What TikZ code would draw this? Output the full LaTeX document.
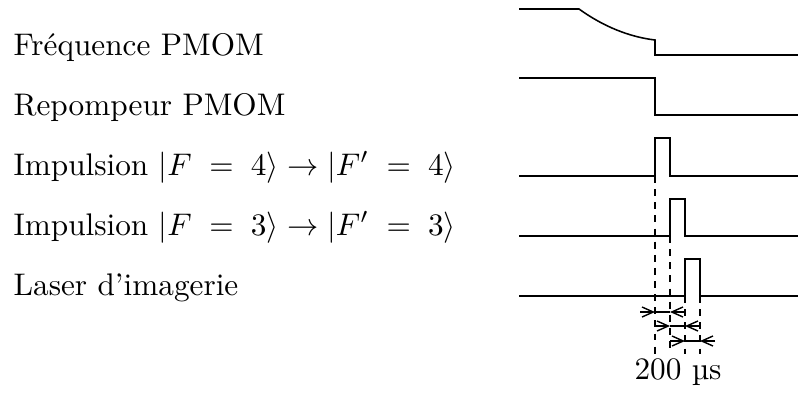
\documentclass[tikz,border=0pt]{standalone}
\usetikzlibrary{arrows.meta}
\tikzset{
  % one unit = one pixel of the 798x396 layout, y pointing down
  signal/.style={line width=0.5pt, black},
  guide/.style={line width=0.45pt, dash pattern=on 2.2pt off 2pt},
  dimtip/.style={line width=0.45pt, -{Straight Barb[length=3.6pt,width=3.2pt]}},
  rowlabel/.style={anchor=base west, inner sep=0pt}
}

\begin{document}
\begin{tikzpicture}[x=0.32pt, y=-0.32pt]
\useasboundingbox (0,0) rectangle (798,396);

\def\xL{519}
\def\xR{798}
\def\tA{655}
\def\tB{670}
\def\tC{685}
\def\tD{700}

% Labels
\node[rowlabel] (lblfreq) at (13,55)  {Fréquence PMOM};
\node[rowlabel] (lblrep)  at (13,115) {Repompeur PMOM};
\node[rowlabel] (lblimpA) at (13,175) {Impulsion $|F \;=\; 4\rangle \rightarrow |F' \;=\; 4\rangle$};
\node[rowlabel] (lblimpB) at (13,235) {Impulsion $|F \;=\; 3\rangle \rightarrow |F' \;=\; 3\rangle$};
\node[rowlabel] (lblimg)  at (13,295) {Laser d'imagerie};

% Signals
\draw[signal] (\xL,9) -- (579,9) .. controls (604,27) and (630,37) .. (\tA,40)
  -- (\tA,55) -- (\xR,55);
\draw[signal] (\xL,78) -- (\tA,78) -- (\tA,115) -- (\xR,115);
\draw[signal] (\xL,176) -- (\tA,176) -- (\tA,138) -- (\tB,138) -- (\tB,176) -- (\xR,176);
\draw[signal] (\xL,236) -- (\tB,236) -- (\tB,199) -- (\tC,199) -- (\tC,236) -- (\xR,236);
\draw[signal] (\xL,296) -- (\tC,296) -- (\tC,259) -- (\tD,259) -- (\tD,296) -- (\xR,296);

% Guides (dashed)
\foreach \x/\ytop in {\tA/176, \tB/236, \tC/296, \tD/296} {
  \draw[guide] (\x,\ytop) -- (\x,354);
}

% Delays
\foreach \xa/\xb/\y in {\tA/\tB/312, \tB/\tC/326, \tC/\tD/341} {
  \coordinate (da) at (\xa,\y);
  \coordinate (db) at (\xb,\y);
  \draw[dimtip] ([xshift=-15*0.32pt]da) -- (da);
  \draw[line width=0.45pt] (da) -- (db);
  \draw[dimtip] ([xshift=15*0.32pt]db) -- (db);
}

\node[anchor=base, inner sep=0pt] (lbldelay) at (678,379) {200 \textmu s};

\end{tikzpicture}
\end{document}
